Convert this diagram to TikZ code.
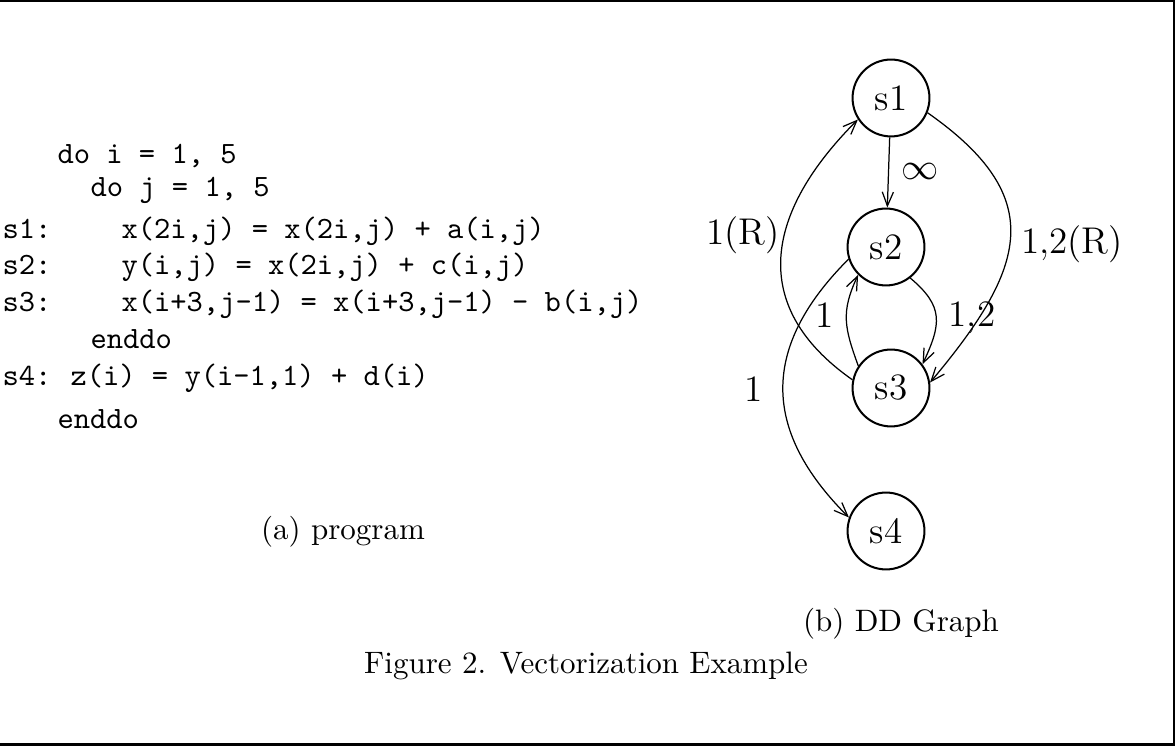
\documentclass[tikz,border=0pt]{standalone}
\usetikzlibrary{arrows.meta}

\begin{document}
\begin{tikzpicture}[x=0.3226pt, y=0.3226pt,
    code/.style={anchor=west, inner sep=0pt, font=\ttfamily, text height=1.6ex, text depth=0.4ex},
    stmt/.style={draw, circle, line width=0.65pt, minimum size=24.8pt, inner sep=0pt, font=\large},
    dep/.style={line width=0.4pt, -{Straight Barb[length=4.5pt, width=3.6pt]}},
    lbl/.style={font=\large, inner sep=0pt}]

    \useasboundingbox (0,0) rectangle (1175,745);

    % cornice (alto, destra, basso)
    \draw[line width=1pt] (0,744.5) -- (1174.5,744.5) -- (1174.5,0.5) -- (0,0.5);

    % --- PROGRAMMA ---
    \node[code] (l1) at (57,590) {do i = 1, 5};
    \node[code] (l2) at (90,557) {do j = 1, 5};
    \node[code] (t1) at (2,515) {s1:};
    \node[code] (l3) at (121,515) {x(2i,j) = x(2i,j) + a(i,j)};
    \node[code] (t2) at (2,479) {s2:};
    \node[code] (l4) at (121,479) {y(i,j) = x(2i,j) + c(i,j)};
    \node[code] (t3) at (2,442) {s3:};
    \node[code] (l5) at (121,442) {x(i+3,j-1) = x(i+3,j-1) - b(i,j)};
    \node[code] (l6) at (90,405) {enddo};
    \node[code] (t4) at (2,368) {s4:};
    \node[code] (l7) at (70,368) {z(i) = y(i-1,1) + d(i)};
    \node[code] (l8) at (57,325) {enddo};

    % --- GRAFO DD ---
    \node[stmt] (s1) at (891,647) {s1};
    \node[stmt] (s2) at (886,498) {s2};
    \node[stmt] (s3) at (891,357) {s3};
    \node[stmt] (s4) at (886,214) {s4};

    \draw[dep] (s1) -- (s2);
    \draw[dep] (s3.168) to[out=145, in=225, looseness=1.27] (s1.213);
    \draw[dep] (s1.-22) to[out=-35, in=50, looseness=1.41] (s3.8);
    \draw[dep] (s2.-52) to[out=-40, in=65, looseness=1.3] (s3.37);
    \draw[dep] (s3.146) to[out=110, in=245, looseness=1.15] (s2.225);
    \draw[dep] (s2.198) to[out=225, in=135, looseness=1.23] (s4.160);

    % etichette delle dipendenze
    \node[lbl] (inf) at (920,573) {$\infty$};
    \node[lbl] (r1) at (743,510) {1(R)};
    \node[lbl] (r12) at (1072,501) {1,2(R)};
    \node[lbl] (d1) at (825,430) {1};
    \node[lbl] (d12) at (972,427) {1,2};
    \node[lbl] (d4) at (754,356) {1};

    % --- DIDASCALIE ---
    \node (capa) at (343,213) {(a) program};
    \node (capb) at (901,121) {(b) DD Graph};
    \node (fig) at (586,79) {Figure 2. Vectorization Example};

\end{tikzpicture}
\end{document}
